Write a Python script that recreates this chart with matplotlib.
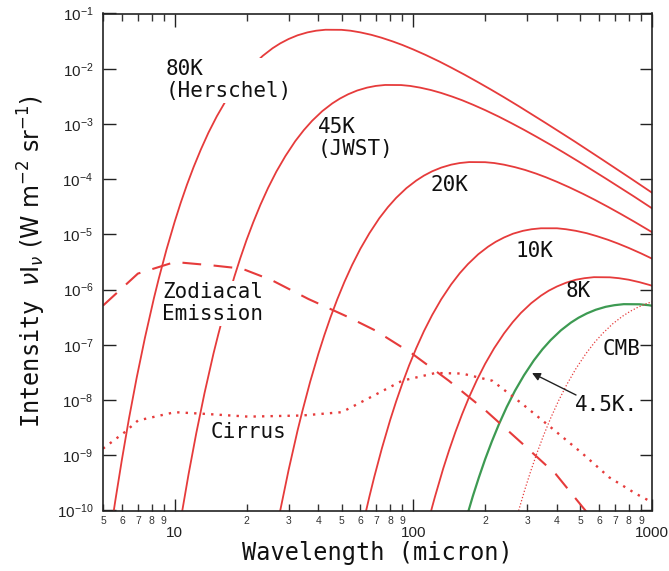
import matplotlib
matplotlib.use('Agg')
import matplotlib.pyplot as plt
from matplotlib.ticker import FixedLocator, FixedFormatter, LogLocator, NullLocator, LogFormatterMathtext

plt.rcParams['font.family'] = ['Liberation Sans', 'DejaVu Sans']

# curves: wavelength (micron), intensity (W m-2 sr-1)
wl_80k = [5.45, 5.62, 5.995, 6.42, 6.917, 7.494, 8.175, 8.564, 9.223, 9.992, 10.58, 11.24, 11.99, 12.85,
          13.83, 14.99, 16.35, 17.99, 19.55, 21.16, 23.36, 25.69, 27.67, 29.98, 32.70, 35.97, 39.10,
          42.82, 49.96, 54.50, 59.95, 66.61, 73.41, 81.75, 89.93, 99.92, 112.4, 128.5, 143.9, 163.5,
          185.4, 211.6, 239.8, 276.7, 359.7, 473.3, 620.2, 817.5, 1058]
i_80k = [5.93e-11, 1.43e-10, 8.13e-10, 4.56e-9, 2.51e-8, 1.34e-7, 7.02e-7, 1.58e-6, 5.27e-6, 1.71e-5,
         3.71e-5, 7.91e-5, 1.66e-4, 3.43e-4, 6.93e-4, 1.37e-3, 2.62e-3, 4.88e-3, 7.76e-3, 1.14e-2,
         1.71e-2, 2.35e-2, 2.88e-2, 3.45e-2, 4.03e-2, 4.55e-2, 4.88e-2, 5.08e-2, 5.06e-2, 4.88e-2,
         4.55e-2, 4.11e-2, 3.65e-2, 3.13e-2, 2.69e-2, 2.23e-2, 1.78e-2, 1.35e-2, 1.05e-2, 7.83e-3,
         5.79e-3, 4.18e-3, 3.04e-3, 2.09e-3, 1.03e-3, 4.84e-4, 2.25e-4, 1.02e-4, 4.83e-5]

wl_45k = [10.66, 11.42, 12.30, 13.32, 14.53, 15.23, 16.40, 17.76, 18.81, 19.98, 21.32, 22.84, 24.59,
          26.64, 29.07, 31.97, 34.75, 37.62, 41.52, 45.68, 49.19, 53.29, 58.13, 63.95, 69.51, 76.13,
          88.81, 96.89, 106.6, 118.4, 130.5, 145.3, 159.9, 177.6, 199.8, 228.4, 255.8, 290.7, 329.6,
          376.2, 426.3, 491.9, 639.5, 841.4, 1102.5]
i_45k = [8.13e-11, 4.56e-10, 2.51e-9, 1.34e-8, 7.02e-8, 1.58e-7, 5.27e-7, 1.71e-6, 3.71e-6, 7.91e-6,
         1.66e-5, 3.43e-5, 6.93e-5, 1.37e-4, 2.62e-4, 4.88e-4, 7.76e-4, 1.14e-3, 1.71e-3, 2.35e-3,
         2.88e-3, 3.45e-3, 4.03e-3, 4.55e-3, 4.88e-3, 5.08e-3, 5.06e-3, 4.88e-3, 4.55e-3, 4.11e-3,
         3.65e-3, 3.13e-3, 2.69e-3, 2.23e-3, 1.78e-3, 1.35e-3, 1.05e-3, 7.83e-4, 5.79e-4, 4.18e-4,
         3.04e-4, 2.09e-4, 1.03e-4, 4.84e-5, 2.25e-5]

wl_20k = [26.64, 27.67, 29.98, 32.70, 34.26, 36.89, 39.97, 42.32, 44.96, 47.96, 51.39, 55.34, 59.95,
          65.40, 71.94, 78.20, 84.64, 93.43, 102.8, 110.7, 119.9, 130.8, 143.9, 156.4, 171.3, 199.8,
          218.0, 239.8, 266.4, 293.6, 327.0, 359.7, 399.7, 449.6, 513.9, 575.5, 654.0, 741.6, 846.4,
          959.2, 1106.8]
i_20k = [4.31e-11, 1.01e-10, 5.40e-10, 2.82e-9, 6.35e-9, 2.12e-8, 6.89e-8, 1.49e-7, 3.18e-7, 6.68e-7,
         1.38e-6, 2.79e-6, 5.50e-6, 1.05e-5, 1.96e-5, 3.12e-5, 4.58e-5, 6.87e-5, 9.44e-5, 1.16e-4,
         1.39e-4, 1.62e-4, 1.83e-4, 1.96e-4, 2.04e-4, 2.03e-4, 1.96e-4, 1.83e-4, 1.65e-4, 1.47e-4,
         1.26e-4, 1.08e-4, 8.95e-5, 7.14e-5, 5.42e-5, 4.23e-5, 3.15e-5, 2.33e-5, 1.68e-5, 1.22e-5,
         8.39e-6]

wl_10k = [62.56, 65.40, 68.51, 73.78, 79.93, 84.64, 89.93, 95.92, 102.8, 110.7, 119.9, 130.8, 143.9,
          156.4, 169.3, 186.9, 205.5, 221.4, 239.8, 261.6, 287.8, 312.8, 342.6, 399.7, 436.0, 479.6,
          532.9, 587.3, 654.0, 719.4, 799.3, 899.3, 1027.7]
i_10k = [7.85e-11, 1.79e-10, 4.03e-10, 1.34e-9, 4.37e-9, 9.44e-9, 2.01e-8, 4.24e-8, 8.73e-8, 1.77e-7,
         3.48e-7, 6.68e-7, 1.24e-6, 1.98e-6, 2.90e-6, 4.36e-6, 5.98e-6, 7.35e-6, 8.79e-6, 1.03e-5,
         1.16e-5, 1.24e-5, 1.29e-5, 1.29e-5, 1.24e-5, 1.16e-5, 1.05e-5, 9.29e-6, 7.98e-6, 6.84e-6,
         5.68e-6, 4.53e-6, 3.44e-6]

wl_8k = [114.2, 119.9, 123.0, 133.2, 141.1, 149.9, 159.9, 171.3, 184.5, 199.8, 218.0, 239.8, 260.7,
         282.1, 311.4, 342.6, 368.9, 399.7, 436.0, 479.6, 521.3, 570.9, 666.1, 726.7, 799.3, 888.1,
         978.8, 1090]
i_8k = [5.24e-11, 1.17e-10, 1.75e-10, 5.68e-10, 1.23e-9, 2.62e-9, 5.51e-9, 1.14e-8, 2.30e-8, 4.53e-8,
        8.69e-8, 1.61e-7, 2.57e-7, 3.78e-7, 5.66e-7, 7.78e-7, 9.55e-7, 1.14e-6, 1.33e-6, 1.51e-6,
        1.61e-6, 1.68e-6, 1.67e-6, 1.61e-6, 1.51e-6, 1.36e-6, 1.21e-6, 1.04e-6]

wl_4k5 = [168.3, 177.6, 188.1, 199.8, 213.2, 228.4, 245.9, 266.4, 290.7, 319.7, 347.5, 376.2, 415.2,
          456.8, 491.9, 532.9, 581.3, 639.5, 695.1, 761.3, 888.1, 968.9, 1065.8]
i_4k5 = [8.39e-11, 1.84e-10, 3.97e-10, 8.47e-10, 1.78e-9, 3.67e-9, 7.43e-9, 1.47e-8, 2.81e-8, 5.22e-8,
         8.32e-8, 1.22e-7, 1.83e-7, 2.52e-7, 3.09e-7, 3.70e-7, 4.32e-7, 4.88e-7, 5.22e-7, 5.45e-7,
         5.42e-7, 5.22e-7, 4.88e-7]

wl_cmb = [273.6, 293.3, 310.6, 330.0, 352.0, 377.1, 406.2, 440.0, 480.0, 528.0, 573.9, 621.2, 685.7,
          754.3, 812.3, 880.0, 960.0, 1056]
i_cmb = [8.73e-11, 2.42e-10, 5.24e-10, 1.12e-9, 2.35e-9, 4.84e-9, 9.79e-9, 1.93e-8, 3.71e-8, 6.89e-8,
         1.10e-7, 1.61e-7, 2.42e-7, 3.32e-7, 4.07e-7, 4.88e-7, 5.69e-7, 6.43e-7]

wl_zodi = [5.0, 7.0, 10.0, 14.3, 19.1, 25.5, 36.3, 53.5, 69.2, 98.8, 140.7, 200.8, 286.5, 395, 512, 540]
i_zodi = [5.13e-7, 1.95e-6, 3.16e-6, 2.75e-6, 2.40e-6, 1.48e-6, 6.76e-7, 3.16e-7, 1.82e-7, 6.92e-8,
          2.24e-8, 6.46e-9, 1.62e-9, 4.57e-10, 1.15e-10, 8.71e-11]

wl_cirrus = [5.0, 6.17, 7.01, 10.0, 13.4, 20.3, 34.1, 50.1, 64.7, 89.7, 123.7, 160, 214, 286, 383, 512,
             662, 858, 1000]
i_cirrus = [1.32e-9, 2.63e-9, 4.27e-9, 6.03e-9, 5.62e-9, 5.01e-9, 5.25e-9, 6.03e-9, 1.07e-8, 2.24e-8,
            3.09e-8, 3.02e-8, 2.24e-8, 8.51e-9, 3.02e-9, 1.07e-9, 3.98e-10, 2.00e-10, 1.41e-10]

x_major = [10, 100, 1000]
x_major_labels = ['10', '100', '1000']
x_minor = [5, 6, 7, 8, 9, 20, 30, 40, 50, 60, 70, 80, 90, 200, 300, 400, 500, 600, 700, 800, 900]
x_minor_labels = ['5', '6', '7', '8', '9', '2', '3', '4', '5', '6', '7', '8', '9',
                  '2', '3', '4', '5', '6', '7', '8', '9']

red = '#e63b3b'
green = '#3d9a52'
mono = 'DejaVu Sans Mono'

W, H = 669, 571
fig = plt.figure(figsize=(W / 100, H / 100), dpi=100)
L, R, T, B = 103, 652, 13.5, 510.5
ax = fig.add_axes([L / W, 1 - B / H, (R - L) / W, (B - T) / H])


def pos(x, y):
    # pixel position -> axes fraction
    return ((x - L) / (R - L), (B - y) / (B - T))


ax.plot(wl_80k, i_80k, color=red, lw=1.3)
ax.plot(wl_45k, i_45k, color=red, lw=1.3)
ax.plot(wl_20k, i_20k, color=red, lw=1.3)
ax.plot(wl_10k, i_10k, color=red, lw=1.3)
ax.plot(wl_8k, i_8k, color=red, lw=1.3)
ax.plot(wl_4k5, i_4k5, color=green, lw=1.6)
ax.plot(wl_cmb, i_cmb, color=red, lw=0.9, ls=(0, (1, 1.6)))
ax.plot(wl_zodi, i_zodi, color=red, lw=1.5, ls=(0, (9, 6)))
ax.plot(wl_cirrus, i_cirrus, color=red, lw=1.7, ls=(0, (1, 2.6)))

ax.set_xscale('log')
ax.set_yscale('log')
ax.set_xlim(5, 1000)
ax.set_ylim(1e-10, 1e-1)

ax.xaxis.set_major_locator(FixedLocator(x_major))
ax.xaxis.set_major_formatter(FixedFormatter(x_major_labels))
ax.xaxis.set_minor_locator(FixedLocator(x_minor))
ax.xaxis.set_minor_formatter(FixedFormatter(x_minor_labels))
ax.yaxis.set_major_locator(LogLocator(base=10, numticks=12))
ax.yaxis.set_major_formatter(LogFormatterMathtext())
ax.yaxis.set_minor_locator(NullLocator())

ax.tick_params(axis='x', which='major', direction='in', length=9, width=1, pad=11,
               labelsize=11, top=True, colors='#222')
ax.tick_params(axis='x', which='minor', direction='in', length=5, width=1, pad=4,
               labelsize=7.5, top=True, colors='#333')
ax.tick_params(axis='y', which='major', direction='in', length=9, width=1, pad=7,
               labelsize=11, right=True, colors='#222')
for s in ax.spines.values():
    s.set_linewidth(1.2)
    s.set_color('#222')

ax.set_xlabel('Wavelength (micron)', fontfamily=mono, fontsize=17, color='#111')
ax.xaxis.set_label_coords(0.5, -0.062)
ax.set_ylabel(r'Intensity $\nu\mathrm{I}_{\nu}\ \mathrm{(W\ m^{-2}\ sr^{-1})}$',
              fontfamily=mono, fontsize=17, color='#111')
ax.yaxis.set_label_coords(-0.10, 0.5)

box = dict(facecolor='white', edgecolor='none', pad=1)
kw = dict(transform=ax.transAxes, fontfamily=mono, fontsize=15, color='#111',
          ha='left', va='top', linespacing=1.15)
ax.text(*pos(166, 59), '80K\n(Herschel)', bbox=box, **kw)
ax.text(*pos(318, 117), '45K\n(JWST)', **kw)
ax.text(*pos(431, 175), '20K', **kw)
ax.text(*pos(516, 241), '10K', **kw)
ax.text(*pos(566, 281), '8K', **kw)
ax.text(*pos(603, 339), 'CMB', **kw)
ax.text(*pos(575, 395), '4.5K.', **kw)
ax.text(*pos(162, 282), 'Zodiacal\nEmission', bbox=box, **kw)
ax.text(*pos(211, 422), 'Cirrus', **kw)

ax.annotate('', xy=pos(532, 373), xytext=pos(576, 395), xycoords='axes fraction',
            arrowprops=dict(arrowstyle='-|>', color='#222', lw=1, mutation_scale=12,
                            shrinkA=0, shrinkB=0))

fig.savefig('out.png', dpi=100)
